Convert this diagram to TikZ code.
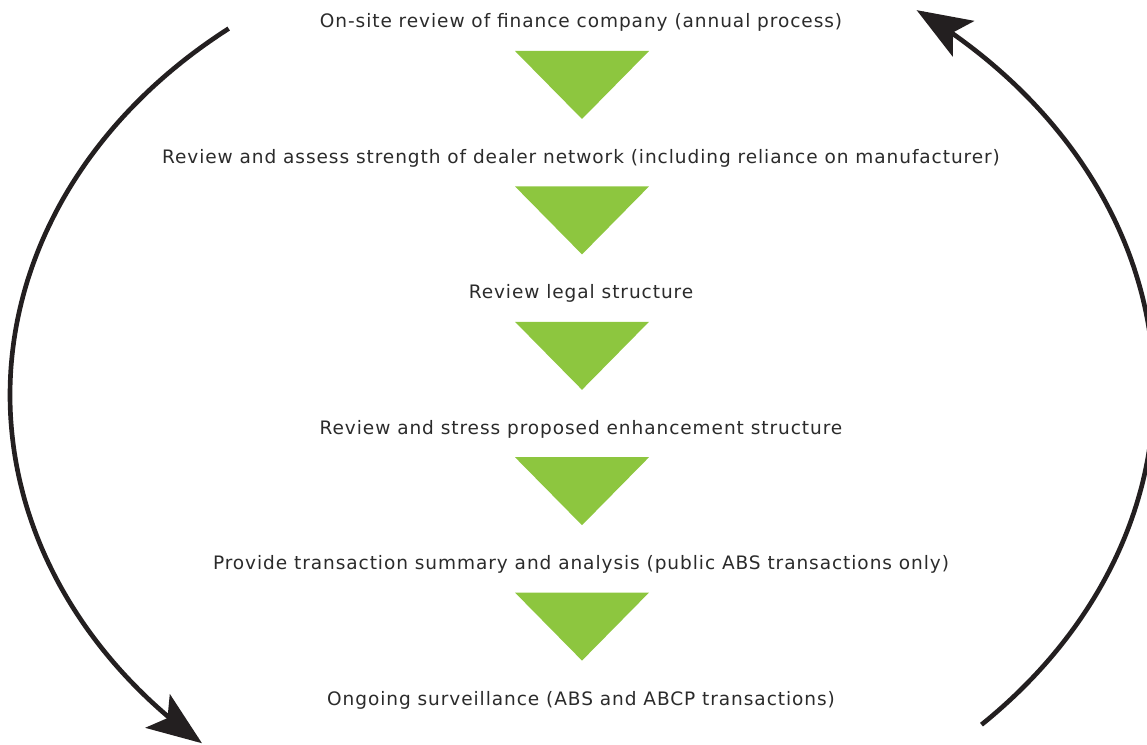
\documentclass[tikz,border=0pt]{standalone}
\usepackage{fontspec}
\setmainfont{DejaVu Sans}[LetterSpace=5]
\usetikzlibrary{arrows.meta}
\definecolor{stepgreen}{HTML}{8DC63F}
\definecolor{steptext}{HTML}{2B2B2B}
\definecolor{cyclearc}{HTML}{231F20}
\begin{document}
\begin{tikzpicture}[x=0.75pt,y=-0.75pt,
  steplabel/.style={anchor=base, inner sep=0pt, text=steptext, font=\fontsize{13.9pt}{16pt}\selectfont},
  steparrow/.style={fill=stepgreen, draw=none},
  cycle/.style={draw=cyclearc, line width=3.5pt, line cap=butt,
    -{Stealth[length=41pt, width=31pt, inset=9pt]}}]
\useasboundingbox (0,0) rectangle (1147,745);

% process steps
\node[steplabel] (t1) at (581,28)    {On-site review of finance company (annual process)};
\node[steplabel] (t2) at (581,163.4) {Review and assess strength of dealer network (including reliance on manufacturer)};
\node[steplabel] (t3) at (581,298.8) {Review legal structure};
\node[steplabel] (t4) at (581,434.2) {Review and stress proposed enhancement structure};
\node[steplabel] (t5) at (581,569.6) {Provide transaction summary and analysis (public ABS transactions only)};
\node[steplabel] (t6) at (581,705)   {Ongoing surveillance (ABS and ABCP transactions)};

% green down-pointing triangles between the steps
\foreach \k in {0,...,4}{
  \fill[steparrow] (515,{51+135.4*\k}) -- (649,{51+135.4*\k}) -- (582,{119+135.4*\k}) -- cycle;
}

% cycle arcs: elliptical, down the left side and up the right side
\draw[cycle] plot[domain=232:131.5, samples=120, smooth]
  ({579+569*cos(\x)}, {395+465*sin(\x)});
\draw[cycle] plot[domain=44.8:-53.1, samples=120, smooth]
  ({560+594*cos(\x)}, {390+475*sin(\x)});
\end{tikzpicture}
\end{document}
